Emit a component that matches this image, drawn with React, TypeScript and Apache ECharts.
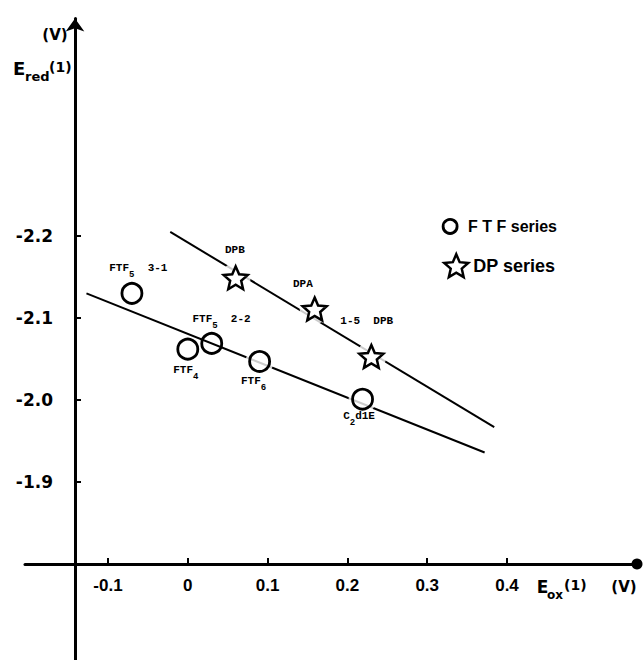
import { useEffect, useRef } from 'react';
import * as echarts from 'echarts';

// ---- data ----
const ftfNames = ['FTF5 3-1', 'FTF4', 'FTF5 2-2', 'FTF6', 'C2d1E'];
const ftfLabels = ['{m|FTF}{s|5}{m|  3-1}', '{m|FTF}{s|4}', '{m|FTF}{s|5}{m|  2-2}', '{m|FTF}{s|6}', '{m|C}{s|2}{m|d1E}'];
const ftfEox = [-0.070, 0.0, 0.030, 0.090, 0.219];
const ftfEred = [-2.130, -2.062, -2.069, -2.047, -2.001];
const ftfGap = [false, false, false, true, true];

const dpNames = ['DPB', 'DPA', '1-5 DPB'];
const dpLabels = ['{m|DPB}', '{m|DPA}', '{m|1-5  DPB}'];
const dpEox = [0.060, 0.159, 0.230];
const dpEred = [-2.149, -2.111, -2.053];

const ftfFitEox = [-0.127, 0.372];
const ftfFitEred = [-2.130, -1.936];
const dpFitEox = [-0.022, 0.384];
const dpFitEred = [-2.205, -1.967];

const xTicks = [-0.1, 0, 0.1, 0.2, 0.3, 0.4];
const yTicks = [-2.2, -2.1, -2.0, -1.9];
const xRange = [-0.204, 0.5629];
const yRange = [-2.4652, -1.6829];

// ---- style ----
const ftfLabelOffset = [[-22.7, -30.5], [-14.6, 14.9], [-19.3, -29.6], [-18.6, 14.3], [-19.4, 11.2]];
const dpLabelOffset = [[-10.7, -33.2], [-21.7, -30.6], [-31, -41.4]];

const starPath = (() => {
  const pts: string[] = [];
  for (let i = 0; i < 10; i++) {
    const r = i % 2 === 0 ? 50 : 23;
    const a = -Math.PI / 2 + (i * Math.PI) / 5;
    pts.push(`${(50 + r * Math.cos(a)).toFixed(2)} ${(50 + r * Math.sin(a)).toFixed(2)}`);
  }
  return 'path://M' + pts.join(' L') + ' Z';
})();

const richLabel = {
  m: { fontFamily: 'Liberation Mono', fontWeight: 'bold', fontSize: 11, color: '#000', verticalAlign: 'top', lineHeight: 17 },
  s: { fontFamily: 'Liberation Mono', fontWeight: 'bold', fontSize: 9, color: '#000', verticalAlign: 'bottom', lineHeight: 17 },
};

const bold = 'DejaVu Sans';

export default function App() {
  const ref = useRef<HTMLDivElement>(null);
  useEffect(() => {
    document.body.style.margin = '0';
    const chart = echarts.init(ref.current!, null, { renderer: 'svg' });
    const txt = (text: string, x: number, y: number, size: number, align = 'left') => ({
      type: 'text',
      x,
      y,
      silent: true,
      style: { text, fontFamily: bold, fontWeight: 'bold', fontSize: size, fill: '#000', align, verticalAlign: 'middle' },
    });
    const option: any = {
      animation: false,
      backgroundColor: '#fff',
      grid: { left: 25, right: 6, top: 18.5, bottom: 0, containLabel: false, outerBoundsMode: 'none' },
      xAxis: {
        type: 'value',
        min: xRange[0],
        max: xRange[1],
        position: 'bottom',
        offset: -96,
        splitLine: { show: false },
        axisLine: {
          show: true,
          onZero: false,
          symbol: ['none', 'circle'],
          symbolSize: [11, 11],
          lineStyle: { color: '#000', width: 3 },
        },
        axisTick: { show: true, inside: true, length: 6, customValues: xTicks, lineStyle: { color: '#000', width: 2 } },
        axisLabel: {
          customValues: xTicks,
          formatter: (v: number) => (v === 0 ? '0' : v.toFixed(1)),
          margin: 13,
          fontFamily: 'Liberation Sans',
          fontWeight: 'bold',
          fontSize: 17,
          color: '#000',
        },
      },
      yAxis: {
        type: 'value',
        inverse: true,
        min: yRange[0],
        max: yRange[1],
        position: 'left',
        offset: -50,
        splitLine: { show: false },
        axisLine: {
          show: true,
          onZero: false,
          symbol: ['none', 'arrow'],
          symbolSize: [14, 13],
          lineStyle: { color: '#000', width: 3 },
        },
        axisTick: { show: true, inside: true, length: 6, customValues: yTicks, lineStyle: { color: '#000', width: 2 } },
        axisLabel: {
          customValues: yTicks,
          formatter: (v: number) => v.toFixed(1),
          margin: 22,
          padding: [0, 0, 10, 0],
          fontFamily: bold,
          fontWeight: 'bold',
          fontSize: 17,
          color: '#000',
        },
      },
      legend: [
        {
          left: 441.7,
          top: 218,
          padding: 0,
          itemWidth: 26,
          itemHeight: 14,
          selectedMode: false,
          data: [{ name: 'FTF series', icon: 'circle' }],
          formatter: () => 'F T F series',
          itemStyle: { color: '#fff', borderColor: '#000', borderWidth: 2.8 },
          textStyle: { fontFamily: 'Liberation Sans', fontWeight: 'bold', fontSize: 16, color: '#000' },
        },
        {
          left: 443,
          top: 253,
          padding: 0,
          itemWidth: 24,
          itemHeight: 24,
          selectedMode: false,
          data: [{ name: 'DP series', icon: starPath }],
          itemStyle: { color: '#fff', borderColor: '#000', borderWidth: 2.5 },
          textStyle: { fontFamily: 'Liberation Sans', fontWeight: 'bold', fontSize: 18, color: '#000' },
        },
      ],
      series: [
        {
          type: 'line',
          name: 'ftfFit',
          data: ftfFitEox.map((x, i) => [x, ftfFitEred[i]]),
          symbol: 'none',
          silent: true,
          z: 2,
          lineStyle: { color: '#000', width: 2 },
        },
        {
          type: 'line',
          name: 'dpFit',
          data: dpFitEox.map((x, i) => [x, dpFitEred[i]]),
          symbol: 'none',
          silent: true,
          z: 2,
          lineStyle: { color: '#000', width: 2 },
        },
        {
          type: 'scatter',
          name: 'ftfHalo',
          data: ftfEox.map((x, i) => [x, ftfEred[i]]).filter((_, i) => ftfGap[i]),
          symbol: 'circle',
          symbolSize: 28,
          silent: true,
          z: 3,
          itemStyle: { color: '#fff' },
        },
        {
          type: 'scatter',
          name: 'dpHalo',
          data: dpEox.map((x, i) => [x, dpEred[i]]),
          symbol: 'circle',
          symbolSize: 30,
          silent: true,
          z: 3,
          itemStyle: { color: '#fff' },
        },
        {
          type: 'scatter',
          name: 'FTF series',
          z: 4,
          symbol: 'circle',
          symbolSize: 20,
          itemStyle: { color: 'rgba(0,0,0,0)', borderColor: '#000', borderWidth: 2.8, opacity: 1 },
          data: ftfEox.map((x, i) => ({
            name: ftfNames[i],
            value: [x, ftfEred[i]],
            label: {
              show: true,
              position: 'inside',
              align: 'left',
              verticalAlign: 'top',
              offset: ftfLabelOffset[i],
              formatter: ftfLabels[i],
              rich: richLabel,
            },
          })),
        },
        {
          type: 'scatter',
          name: 'DP series',
          z: 4,
          symbol: starPath,
          symbolKeepAspect: true,
          symbolSize: 24,
          itemStyle: { color: '#fff', borderColor: '#000', borderWidth: 2.5, opacity: 1 },
          data: dpEox.map((x, i) => ({
            name: dpNames[i],
            value: [x, dpEred[i]],
            label: {
              show: true,
              position: 'inside',
              align: 'left',
              verticalAlign: 'top',
              offset: dpLabelOffset[i],
              formatter: dpLabels[i],
              rich: richLabel,
            },
          })),
        },
      ],
      graphic: {
        elements: [
          txt('(V)', 55, 34.5, 15, 'center'),
          txt('E', 13, 68.5, 18),
          txt('red', 25, 76, 13),
          txt('(1)', 49, 66.5, 14),
          txt('E', 536.7, 587, 17),
          txt('ox', 547, 595, 12),
          txt('(1)', 564, 585, 14),
          txt('(V)', 624, 586.5, 15, 'center'),
        ],
      },
    };
    chart.setOption(option);
    return () => chart.dispose();
  }, []);
  return <div ref={ref} style={{ width: 643, height: 660 }} />;
}
